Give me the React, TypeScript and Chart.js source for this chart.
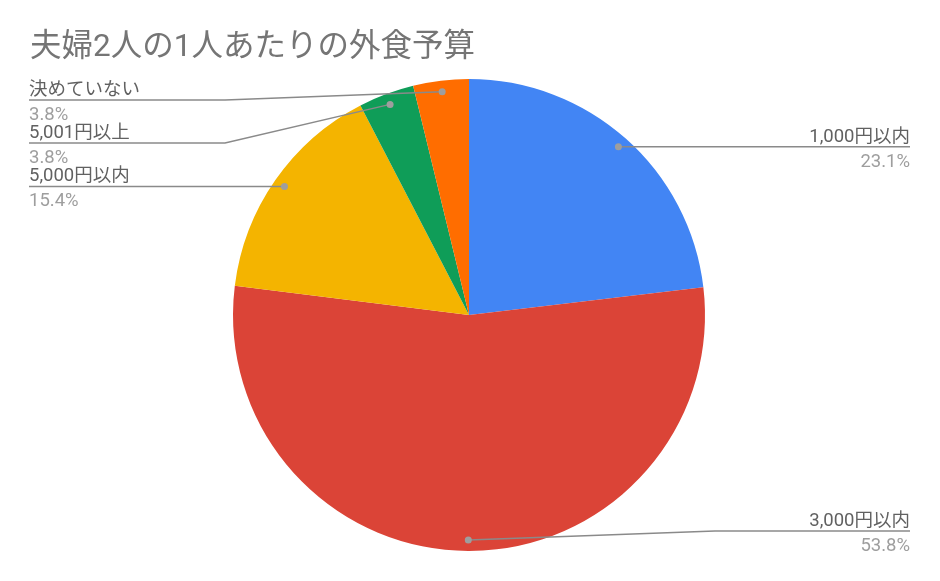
import React, { useRef, useEffect } from 'react';
import { Chart, registerables } from 'chart.js';

Chart.register(...registerables);

const title = '夫婦2人の1人あたりの外食予算';
const categories = ['1,000円以内', '3,000円以内', '5,000円以内', '5,001円以上', '決めていない'];
const shares = [23.1, 53.8, 15.4, 3.8, 3.8];
const colors = ['#4285F4', '#DB4437', '#F4B400', '#0F9D58', '#FF6D00'];

const FONT = "Roboto, 'Noto Sans CJK JP', sans-serif";

const leaderPlugin = {
  id: 'leaders',
  afterDraw(chart: any) {
    const ctx = chart.ctx as CanvasRenderingContext2D;
    const area = chart.chartArea;
    const meta = chart.getDatasetMeta(0);

    ctx.save();
    // title
    ctx.font = `31.5px ${FONT}`;
    ctx.fillStyle = '#757575';
    ctx.textAlign = 'left';
    ctx.textBaseline = 'alphabetic';
    ctx.fillText(title, 30, 56);

    const items = meta.data.map((arc: any, i: number) => {
      const p = arc.getProps(['x', 'y', 'startAngle', 'endAngle', 'outerRadius'], true);
      const mid = (p.startAngle + p.endAngle) / 2;
      const ax = p.x + Math.cos(mid) * p.outerRadius * 0.953;
      const ay = p.y + Math.sin(mid) * p.outerRadius * 0.953;
      // slices pointing (almost) straight down go to the right side
      return { i, ax, ay, right: Math.cos(mid) > -0.02, lineY: ay };
    });

    const minY = area.top + 21;
    const maxY = area.bottom - 20;
    const gap = 43;
    for (const side of [true, false]) {
      const list = items.filter((it: any) => it.right === side).sort((a: any, b: any) => a.ay - b.ay);
      let prev = -Infinity;
      for (const it of list) {
        it.lineY = Math.max(it.ay, prev + gap, minY);
        prev = it.lineY;
      }
      let next = Infinity;
      for (let k = list.length - 1; k >= 0; k--) {
        list[k].lineY = Math.min(list[k].lineY, next - gap, maxY);
        next = list[k].lineY;
      }
    }

    for (const it of items) {
      const textX = it.right ? 910 : 29;
      const elbowX = it.right ? area.right + 10 : area.left - 8;
      ctx.strokeStyle = '#8a8a8a';
      ctx.lineWidth = 1.5;
      ctx.beginPath();
      ctx.moveTo(textX, it.lineY);
      ctx.lineTo(elbowX, it.lineY);
      ctx.lineTo(it.ax, it.ay);
      ctx.stroke();

      ctx.fillStyle = '#9e9e9e';
      ctx.beginPath();
      ctx.arc(it.ax, it.ay, 3.5, 0, Math.PI * 2);
      ctx.fill();

      ctx.textAlign = it.right ? 'right' : 'left';
      ctx.font = `18.5px ${FONT}`;
      ctx.fillStyle = '#616161';
      ctx.fillText(categories[it.i], textX, it.lineY - 5);
      ctx.fillStyle = '#9e9e9e';
      ctx.fillText(shares[it.i].toFixed(1) + '%', textX, it.lineY + 20);
    }
    ctx.restore();
  },
};

const App: React.FC = () => {
  const canvasRef = useRef<HTMLCanvasElement | null>(null);
  const chartInstance = useRef<Chart | null>(null);

  useEffect(() => {
    if (!canvasRef.current) return;
    if (chartInstance.current) chartInstance.current.destroy();
    chartInstance.current = new Chart(canvasRef.current, {
      type: 'pie',
      data: {
        labels: categories,
        datasets: [{
          data: shares,
          backgroundColor: colors,
          borderWidth: 0,
        }],
      },
      options: {
        responsive: false,
        animation: false,
        layout: { padding: { top: 79, bottom: 30, left: 233, right: 235 } },
        plugins: {
          legend: { display: false },
          tooltip: { enabled: false },
          title: { display: false },
        },
      },
      plugins: [leaderPlugin],
    });
    return () => {
      if (chartInstance.current) chartInstance.current.destroy();
      chartInstance.current = null;
    };
  }, []);

  return (
    <div style={{ position: 'fixed', left: 0, top: 0, width: 940, height: 581, background: '#fff' }}>
      <canvas ref={canvasRef} width={940} height={581} style={{ width: 940, height: 581 }} />
    </div>
  );
};

export default App;
